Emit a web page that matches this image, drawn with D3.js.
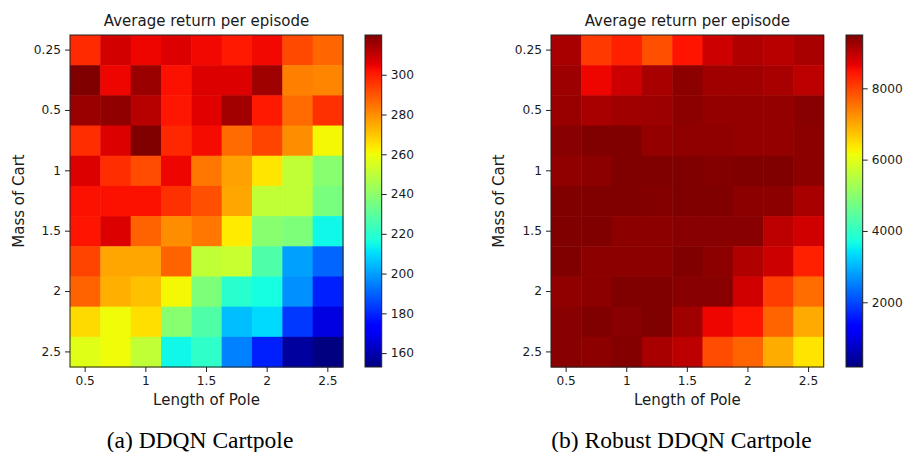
<!DOCTYPE html>
<html><head><meta charset="utf-8">
<script src="https://cdn.jsdelivr.net/npm/d3@7"></script>
<style>
body{margin:0;background:#fff;}
svg{display:block;font-family:"DejaVu Sans",sans-serif;}
</style></head>
<body><svg id="c" width="904" height="452"></svg>
<script>
// ---- data ----
const poleLengths = ["0.5","0.75","1","1.25","1.5","1.75","2","2.25","2.5"];
const xTickIdx = [0,2,4,6,8];
const xTickLabels = ["0.5","1","1.5","2","2.5"];
const massRows = [0,1,2,3,4,5,6,7,8,9,10];
const yTickIdx = [0,2,4,6,8,10];
const yTickLabels = ["0.25","0.5","1","1.5","2","2.5"];

const ddqnReturns = [
  [297.5,308,304,306.5,303.5,300.5,303.5,292,287],
  [320,304,316,302,306.5,306.5,315.5,282.5,281.5],
  [316,317.5,312,301,306,315,300.5,286,296.5],
  [297,306.5,320,298,303,286,293,280,261],
  [306.5,297,291.5,304,284,276.5,264.5,250.5,239],
  [302,302,302,296.5,291,275.5,250.5,250.5,236],
  [301.5,306.5,287.5,280,284,263.5,239,237,214.5],
  [293,275.5,275.5,287.5,250.5,252,227.5,200,190.5],
  [287.5,274,271,261,237,219.5,216,197.5,179],
  [266.5,260,265.5,239,227.5,205,209.5,183,167],
  [257,260,250.5,214.5,221,195,179,157.5,153]
];
const robustReturns = [
  [9170,8100,8340,7865,8460,8880,9105,9040,9170],
  [9260,8610,8880,9170,9390,9235,9235,9170,9010],
  [9300,9170,9235,9260,9390,9330,9330,9330,9430],
  [9430,9495,9495,9330,9365,9365,9330,9330,9390],
  [9365,9390,9495,9495,9495,9460,9495,9495,9390],
  [9495,9495,9495,9460,9495,9495,9390,9390,9170],
  [9495,9495,9390,9390,9430,9430,9430,9010,8845],
  [9495,9390,9390,9390,9495,9390,9105,8880,8340],
  [9365,9390,9495,9495,9430,9430,8845,8060,7585],
  [9430,9495,9430,9495,9235,8610,8460,7670,6980],
  [9430,9390,9460,9170,9010,7910,7670,6960,6410]
];
const ddqnRange = [153, 320];
const robustRange = [185, 9495];
const ddqnTicks = [160,180,200,220,240,260,280,300];
const robustTicks = [2000,4000,6000,8000];
const titleText = "Average return per episode";
const xLabel = "Length of Pole";
const yLabel = "Mass of Cart";

// ---- jet colormap (matplotlib) ----
const rS = d3.scaleLinear().domain([0,0.35,0.66,0.89,1]).range([0,0,1,1,0.5]).clamp(true);
const gS = d3.scaleLinear().domain([0,0.125,0.375,0.64,0.91,1]).range([0,0,1,1,0,0]).clamp(true);
const bS = d3.scaleLinear().domain([0,0.11,0.34,0.65,1]).range([0.5,1,1,0,0]).clamp(true);
function jet(t){t=Math.max(0,Math.min(1,t));return d3.rgb(rS(t)*255,gS(t)*255,bS(t)*255).formatHex();}

const svg = d3.select("#c");
const defs = svg.append("defs");
const ink = "#1a1a1a";
const tickFont = "12.2px", labelFont = "15px", titleFont = "15px";

const panels = [
  {data:ddqnReturns, range:ddqnRange, ticks:ddqnTicks, caption:"(a) DDQN Cartpole",
   x0:70, x1:343, cb0:365, cb1:381.7, capX:200, ylabX:18.5, id:"g0"},
  {data:robustReturns, range:robustRange, ticks:robustTicks, caption:"(b) Robust DDQN Cartpole",
   x0:551, x1:823.7, cb0:846, cb1:862.7, capX:681.5, ylabX:499.3, id:"g1"}
];
const plotTop = 35, plotBottom = 367;

panels.forEach(p=>{
  const x = d3.scaleBand().domain(d3.range(poleLengths.length)).range([p.x0,p.x1]);
  const y = d3.scaleBand().domain(massRows).range([plotTop,plotBottom]);
  const norm = d3.scaleLinear().domain(p.range).range([0,1]);
  const g = svg.append("g");
  const cells = [];
  p.data.forEach((row,ri)=>row.forEach((v,ci)=>cells.push({ri,ci,v})));
  g.selectAll("rect.cell").data(cells).join("rect").attr("class","cell")
    .attr("x",d=>x(d.ci)).attr("y",d=>y(d.ri))
    .attr("width",x.bandwidth()+0.5).attr("height",y.bandwidth()+0.5)
    .attr("fill",d=>jet(norm(d.v)));
  g.append("rect").attr("x",p.x0).attr("y",plotTop).attr("width",p.x1-p.x0).attr("height",plotBottom-plotTop)
    .attr("fill","none").attr("stroke","#222").attr("stroke-width",1);

  const xAxis = d3.axisBottom(x).tickValues(xTickIdx).tickFormat((d,i)=>xTickLabels[i]).tickSize(5).tickPadding(4);
  const ga = g.append("g").attr("transform",`translate(0,${plotBottom})`).call(xAxis);
  const yAxis = d3.axisLeft(y).tickValues(yTickIdx).tickFormat((d,i)=>yTickLabels[i]).tickSize(5).tickPadding(4);
  const gb = g.append("g").attr("transform",`translate(${p.x0},0)`).call(yAxis);
  [ga,gb].forEach(a=>{
    a.select(".domain").remove();
    a.selectAll("line").attr("stroke","#222");
    a.selectAll("text").attr("fill",ink).style("font-size",tickFont).style("font-family","DejaVu Sans");
  });

  const cx = (p.x0+p.x1)/2;
  g.append("text").attr("x",cx).attr("y",26).attr("text-anchor","middle")
    .attr("fill",ink).style("font-size",titleFont).text(titleText);
  g.append("text").attr("x",cx).attr("y",405).attr("text-anchor","middle")
    .attr("fill",ink).style("font-size",labelFont).text(xLabel);
  g.append("text").attr("transform",`translate(${p.ylabX},${(plotTop+plotBottom)/2}) rotate(-90)`)
    .attr("text-anchor","middle").attr("dominant-baseline","central")
    .attr("fill",ink).style("font-size",labelFont).text(yLabel);

  // colorbar
  const grad = defs.append("linearGradient").attr("id",p.id).attr("x1",0).attr("y1",1).attr("x2",0).attr("y2",0);
  d3.range(0,1.0001,0.01).forEach(t=>grad.append("stop").attr("offset",t).attr("stop-color",jet(t)));
  g.append("rect").attr("x",p.cb0).attr("y",plotTop).attr("width",p.cb1-p.cb0).attr("height",plotBottom-plotTop)
    .attr("fill",`url(#${p.id})`).attr("stroke","#222").attr("stroke-width",1);
  const cy = d3.scaleLinear().domain(p.range).range([plotBottom,plotTop]);
  const cAxis = d3.axisRight(cy).tickValues(p.ticks).tickFormat(d3.format("d")).tickSize(5).tickPadding(4);
  const gc = g.append("g").attr("transform",`translate(${p.cb1},0)`).call(cAxis);
  gc.select(".domain").remove();
  gc.selectAll("line").attr("stroke","#222");
  gc.selectAll("text").attr("fill",ink).style("font-size",tickFont).style("font-family","DejaVu Sans");

  g.append("text").attr("x",p.capX).attr("y",448).attr("text-anchor","middle")
    .attr("fill","#000").style("font-family","'Liberation Serif',serif").style("font-size","23.5px").text(p.caption);
});
</script></body></html>
